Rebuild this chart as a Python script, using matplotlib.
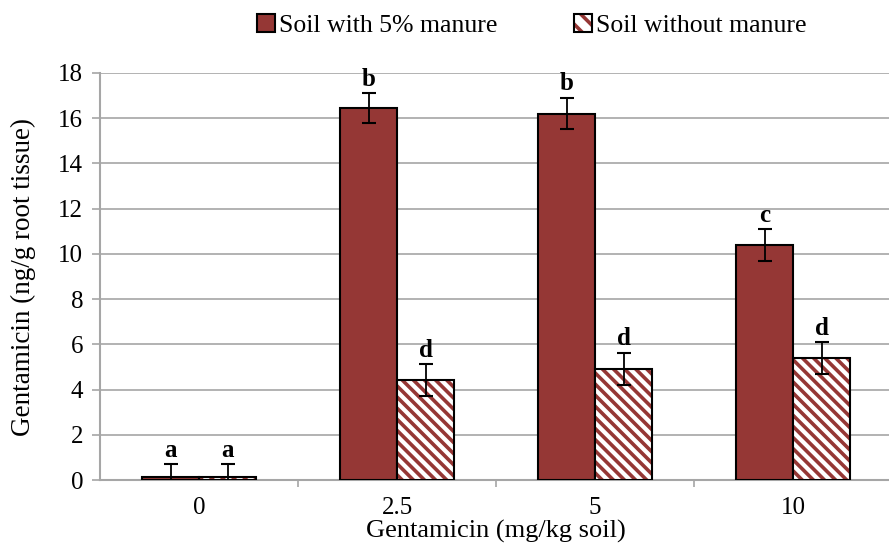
import matplotlib.pyplot as plt
import numpy as np

# data
doses = ['0', '2.5', '5', '10']
manure = [0.15, 16.45, 16.2, 10.4]
manure_err = [0.55, 0.65, 0.7, 0.7]
no_manure = [0.15, 4.42, 4.92, 5.4]
no_manure_err = [0.55, 0.7, 0.72, 0.7]
manure_letters = ['a', 'b', 'b', 'c']
no_manure_letters = ['a', 'd', 'd', 'd']

red = '#953735'
grid_c = '#a6a6a6'

plt.rcParams['font.family'] = ['Liberation Serif', 'DejaVu Serif']
plt.rcParams['hatch.linewidth'] = 2.6

fig = plt.figure(figsize=(8.89, 5.47), dpi=100)
ax = fig.add_axes([0.1125, 0.122, 0.891, 0.745])

x = np.arange(len(doses))
w = 0.288

b1 = ax.bar(x - w/2, manure, w, color=red, edgecolor='black', linewidth=1.5,
            label='Soil with 5% manure', zorder=3)
# hatch takes the edge colour, so draw red hatch first, then black outline on top
ax.bar(x + w/2, no_manure, w, color='white', edgecolor=red, linewidth=0,
       hatch='\\\\\\', zorder=3)
ax.bar(x + w/2, no_manure, w, color='none', edgecolor='black', linewidth=1.5, zorder=3)
b2 = plt.Rectangle((0, 0), 1, 1, facecolor='white', edgecolor=red, hatch='\\\\',
                   linewidth=0)
b2o = plt.Rectangle((0, 0), 1, 1, facecolor='none', edgecolor='black', linewidth=1.5)

ax.errorbar(x - w/2, manure, yerr=manure_err, fmt='none', ecolor='black',
            elinewidth=1.3, capsize=5, capthick=1.5, zorder=4)
ax.errorbar(x + w/2, no_manure, yerr=no_manure_err, fmt='none', ecolor='black',
            elinewidth=1.3, capsize=5, capthick=1.5, zorder=4)

# significance letters
for i in range(len(doses)):
    ax.text(x[i] - w/2, manure[i] + manure_err[i] + 0.1, manure_letters[i],
            ha='center', va='bottom', fontsize=18, fontweight='bold')
    ax.text(x[i] + w/2, no_manure[i] + no_manure_err[i] + 0.1, no_manure_letters[i],
            ha='center', va='bottom', fontsize=18, fontweight='bold')

ax.set_xlim(-0.5, 3.5)
ax.set_ylim(0, 18)
ax.set_yticks(np.arange(0, 19, 2))
ax.set_xticks(x)
ax.set_xticklabels(doses)
ax.set_xticks(np.arange(0.5, 3.5, 1), minor=True)
ax.tick_params(axis='x', which='major', length=0, labelsize=18, pad=12)
ax.tick_params(axis='x', which='minor', length=5, color=grid_c, width=1.2)
ax.tick_params(axis='y', length=6, color=grid_c, width=1.2, labelsize=18, pad=6)

ax.grid(axis='y', color=grid_c, linewidth=1.2, zorder=0)
ax.set_axisbelow(True)
for s in ['top', 'right']:
    ax.spines[s].set_visible(False)
for s in ['left', 'bottom']:
    ax.spines[s].set_color(grid_c)
    ax.spines[s].set_linewidth(1.5)

ax.set_xlabel('Gentamicin (mg/kg soil)', fontsize=19, labelpad=1)
ax.set_ylabel('Gentamicin (ng/g root tissue)', fontsize=19.5, labelpad=16)

fig.legend(handles=[b1, (b2, b2o)], labels=['Soil with 5% manure', 'Soil without manure'],
           loc='upper center', bbox_to_anchor=(0.598, 1.017), ncol=2,
           frameon=False, fontsize=18.5, handlelength=0.7, handleheight=0.7,
           handletextpad=0.15, columnspacing=3.0)

plt.savefig('out.png', dpi=100)
